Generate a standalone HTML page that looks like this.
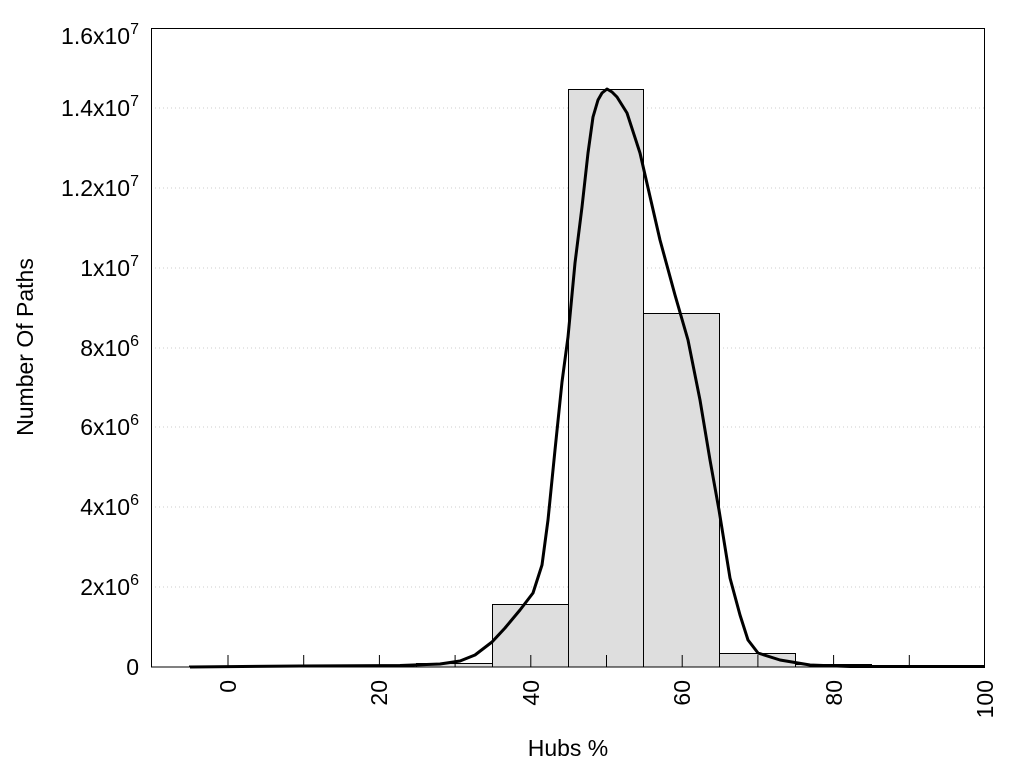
<!DOCTYPE html>
<html><head><style>body{margin:0;background:#fff}svg{display:block}text{font-family:"Liberation Sans",sans-serif;font-size:23px;fill:#000}</style></head>
<body>
<svg width="1024" height="768" viewBox="0 0 1024 768">
<g stroke="#ccc" stroke-dasharray="1,3" stroke-width="1">
<line x1="151" x2="985" y1="108" y2="108"/><line x1="151" x2="985" y1="188" y2="188"/><line x1="151" x2="985" y1="268" y2="268"/><line x1="151" x2="985" y1="348" y2="348"/><line x1="151" x2="985" y1="427" y2="427"/><line x1="151" x2="985" y1="507" y2="507"/><line x1="151" x2="985" y1="587" y2="587"/>
</g>
<g fill="#dedede" stroke="#000" stroke-width="1">
<rect x="189.5" y="666" width="76" height="1"/>
<rect x="416.5" y="663.5" width="76" height="3.5"/>
<rect x="492.5" y="604.5" width="76" height="62.5"/>
<rect x="568.5" y="89.5" width="75" height="577.5"/>
<rect x="643.5" y="313.5" width="76" height="353.5"/>
<rect x="719.5" y="653.5" width="76" height="13.5"/>
<rect x="795.5" y="664.5" width="76" height="2.5"/>
</g>
<g stroke="#000" stroke-width="1">
<line x1="228" x2="228" y1="655" y2="667"/><line x1="303.7" x2="303.7" y1="655" y2="667"/><line x1="379.4" x2="379.4" y1="655" y2="667"/><line x1="455.1" x2="455.1" y1="655" y2="667"/><line x1="530.8" x2="530.8" y1="655" y2="667"/><line x1="606.5" x2="606.5" y1="655" y2="667"/><line x1="682.2" x2="682.2" y1="655" y2="667"/><line x1="757.9" x2="757.9" y1="655" y2="667"/><line x1="833.6" x2="833.6" y1="655" y2="667"/><line x1="909.3" x2="909.3" y1="655" y2="667"/>
</g>
<polyline fill="none" stroke="#000" stroke-width="3" stroke-linejoin="round" points="190,667 300,666 400,665.5 440,664 460,661 475,655 492,642 505,628 520,610 533,593 542,565 548,520 555,450 562,382 568,337 575,263 582,207 588,153 593,117 598,100 602,93 607,89 612,92 617,97 627,113 640,153 660,240 675,295 688,340 700,400 710,460 719,510 730,578 740,615 748,640 758,653 780,660 810,665 850,666.5 985,666.5"/>
<rect x="151.5" y="28.5" width="833" height="638.5" fill="none" stroke="#000" stroke-width="1"/>
<g text-anchor="end">
<text x="139" y="675">0</text>
<text x="139" y="595">2x10<tspan dy="-10" font-size="16">6</tspan></text>
<text x="139" y="515">4x10<tspan dy="-10" font-size="16">6</tspan></text>
<text x="139" y="435">6x10<tspan dy="-10" font-size="16">6</tspan></text>
<text x="139" y="356">8x10<tspan dy="-10" font-size="16">6</tspan></text>
<text x="139" y="276">1x10<tspan dy="-10" font-size="16">7</tspan></text>
<text x="139" y="196">1.2x10<tspan dy="-10" font-size="16">7</tspan></text>
<text x="139" y="116">1.4x10<tspan dy="-10" font-size="16">7</tspan></text>
<text x="139" y="44">1.6x10<tspan dy="-10" font-size="16">7</tspan></text>
</g>
<g text-anchor="end">
<text transform="translate(236,680) rotate(-90)">0</text>
<text transform="translate(387,680) rotate(-90)">20</text>
<text transform="translate(539,680) rotate(-90)">40</text>
<text transform="translate(690,680) rotate(-90)">60</text>
<text transform="translate(842,680) rotate(-90)">80</text>
<text transform="translate(993,680) rotate(-90)">100</text>
</g>
<text x="568" y="756" text-anchor="middle">Hubs %</text>
<text transform="translate(33,347) rotate(-90)" text-anchor="middle">Number Of Paths</text>
</svg>
</body></html>
